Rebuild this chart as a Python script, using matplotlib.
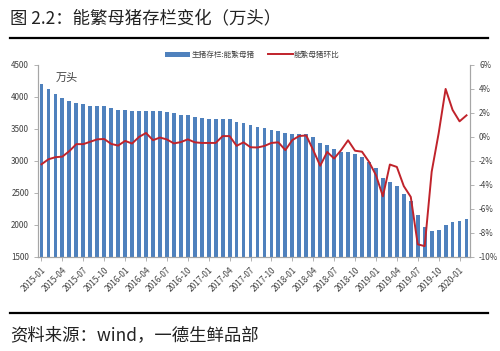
import numpy as np
import matplotlib
matplotlib.use('Agg')
import matplotlib.pyplot as plt
from matplotlib.lines import Line2D

plt.rcParams['font.family'] = ['Noto Sans CJK SC', 'DejaVu Sans']

# Monthly data, 2015-01 .. 2020-02
months = [f"{y}-{m:02d}" for y in range(2015, 2021) for m in range(1, 13)][:62]

# 生猪存栏:能繁母猪 (万头)
sows = [4200, 4119, 4051, 3978, 3931, 3910, 3889, 3863, 3863, 3852,
        3826, 3800, 3789, 3779, 3779, 3781, 3776, 3776, 3766, 3742,
        3716, 3716, 3690, 3664, 3654, 3651, 3651, 3651, 3612, 3586,
        3559, 3533, 3507, 3491, 3470, 3429, 3418, 3415, 3420, 3368,
        3288, 3243, 3185, 3143, 3133, 3107, 3055, 2982, 2882, 2741,
        2674, 2606, 2491, 2376, 2162, 1964, 1907, 1917, 1995, 2042,
        2068, 2100]

# 能繁母猪环比 (%)
mom = [-2.28, -1.86, -1.69, -1.64, -1.18, -0.6, -0.6, -0.4, -0.2, -0.17,
       -0.58, -0.72, -0.33, -0.55, 0.0, 0.33, -0.27, -0.05, -0.21, -0.54,
       -0.43, -0.2, -0.45, -0.5, -0.5, -0.5, 0.07, 0.07, -0.74, -0.45,
       -0.86, -0.88, -0.75, -0.5, -0.45, -1.1, -0.26, 0.08, 0.12, -1.1,
       -2.4, -1.25, -1.8, -1.1, -0.28, -1.15, -1.23, -2.07, -3.18, -4.95,
       -2.3, -2.5, -4.1, -5.0, -8.95, -9.1, -2.9, 0.3, 4.0, 2.25,
       1.3, 1.8]

x = np.arange(len(sows))

fig = plt.figure(figsize=(5, 3.51), dpi=100)
ax = fig.add_axes([0.076, 0.268, 0.864, 0.547])
ax2 = ax.twinx()

bars = ax.bar(x, sows, width=0.55, color='#4F81BD', label='生猪存栏:能繁母猪', zorder=2)
line, = ax2.plot(x, mom, color='#C0232B', lw=1.4, label='能繁母猪环比', zorder=3)

ax.set_zorder(ax2.get_zorder() - 1)
ax.patch.set_visible(True)
ax2.patch.set_visible(False)

ax.set_xlim(-0.5, len(sows) - 0.5)
ax.set_ylim(1500, 4500)
ax.set_yticks(np.arange(1500, 4501, 500))
ax2.set_ylim(-10, 6)
ax2.set_yticks(np.arange(-10, 7, 2))
ax2.set_yticklabels([f"{v}%" for v in range(-10, 7, 2)])

ax.set_xticks(x[::3])
ax.set_xticklabels(months[::3], rotation=45, ha='right', rotation_mode='anchor')

for a in (ax, ax2):
    a.spines['top'].set_visible(False)
    for s in ('left', 'right', 'bottom'):
        a.spines[s].set_color('#A6A6A6')
        a.spines[s].set_linewidth(0.8)
    a.tick_params(labelsize=5.8, colors='#A6A6A6', labelcolor='#404040', length=3, width=0.6)
ax.tick_params(axis='x', labelsize=6, pad=3)

ax.text(0.04, 0.96, '万头', transform=ax.transAxes, fontsize=8, va='top', ha='left', color='#404040')

fig.legend(handles=[bars, line], loc='center', bbox_to_anchor=(0.505, 0.843), ncol=2,
           frameon=False, fontsize=5.5, handlelength=3.2, handleheight=0.8, columnspacing=1.8,
           handletextpad=0.2, labelcolor='#404040')

fig.text(0.02, 0.948, '图 2.2：能繁母猪存栏变化（万头）', fontsize=12.5, va='center', ha='left', color='#222222')
fig.add_artist(Line2D([0.02, 0.975], [0.892, 0.892], color='black', lw=1.6, transform=fig.transFigure))
fig.add_artist(Line2D([0.02, 0.975], [0.108, 0.108], color='black', lw=1.6, transform=fig.transFigure))
fig.text(0.02, 0.046, '资料来源：wind，一德生鲜品部', fontsize=12.5, va='center', ha='left', color='#222222')

fig.savefig('out.png', dpi=100)
